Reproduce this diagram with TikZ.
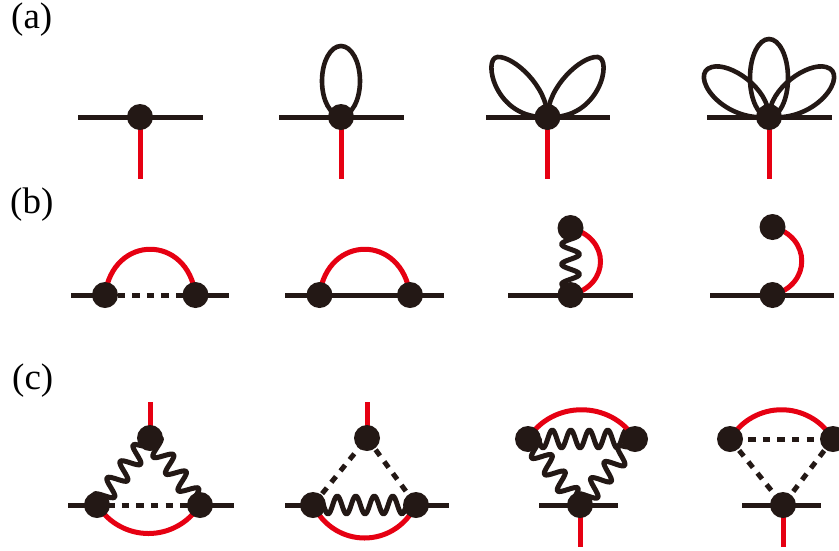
\documentclass[tikz,border=0pt]{standalone}
\usepackage{fontspec}
\setmainfont{Liberation Serif}
\usetikzlibrary{decorations.pathmorphing,backgrounds}

\definecolor{vblack}{HTML}{231815}
\definecolor{vred}{HTML}{E60012}

\tikzset{
  vtx/.style={circle, fill=vblack, inner sep=0pt, minimum size=26pt},
  fline/.style={draw=vblack, line width=5pt},
  rline/.style={draw=vred, line width=5pt},
  lpline/.style={draw=vblack, line width=4.6pt},
  dline/.style={draw=vblack, line width=5pt, dash pattern=on 7.4pt off 7.2pt},
  wline/.style={draw=vblack, line width=5pt, line join=round, decorate,
                decoration={snake, segment length=#1, amplitude=9pt}},
  wline/.default=20pt,
  panel/.style={anchor=base west, inner sep=0pt, font=\fontsize{37}{37}\selectfont}
}

\begin{document}
\begin{tikzpicture}[x=1pt, y=-1pt]
  \useasboundingbox (0,0) rectangle (839,550);

  %--- Panel labels
  \node[panel] (lba) at (11,28.5) {(a)};
  \node[panel] (lbb) at (10,213.5) {(b)};
  \node[panel] (lbc) at (12,389.5) {(c)};

  %--- Row (a)
  \node[vtx] (a1) at (140,117) {};
  \coordinate (a1w) at (78,117);
  \coordinate (a1e) at (203,117);
  \coordinate (a1s) at (140,179);

  \node[vtx] (a2) at (341,117) {};
  \coordinate (a2w) at (279,117);
  \coordinate (a2e) at (404,117);
  \coordinate (a2s) at (341,179);

  \node[vtx] (a3) at (547.5,117) {};
  \coordinate (a3w) at (486,117);
  \coordinate (a3e) at (610,117);
  \coordinate (a3s) at (547.5,179);

  \node[vtx] (a4) at (769,117) {};
  \coordinate (a4w) at (707,117);
  \coordinate (a4e) at (832,117);
  \coordinate (a4s) at (769,179);

  %--- Row (b)
  \node[vtx] (b1l) at (105,295) {};
  \node[vtx] (b1r) at (195.5,295) {};
  \coordinate (b1w) at (71,295);
  \coordinate (b1e) at (229,295);

  \node[vtx] (b2l) at (319.5,295) {};
  \node[vtx] (b2r) at (410,295) {};
  \coordinate (b2w) at (285,295);
  \coordinate (b2e) at (444,295);

  \node[vtx] (b3t) at (570.5,228) {};
  \node[vtx] (b3b) at (570.5,295) {};
  \coordinate (b3w) at (508,295);
  \coordinate (b3e) at (633,295);

  \node[vtx] (b4t) at (772.5,227) {};
  \node[vtx] (b4b) at (772.5,295) {};
  \coordinate (b4w) at (710,295);
  \coordinate (b4e) at (834,295);

  %--- Row (c)
  \node[vtx] (c1t) at (150,438) {};
  \node[vtx] (c1l) at (97,505) {};
  \node[vtx] (c1r) at (200,505) {};
  \coordinate (c1w) at (68,505);
  \coordinate (c1e) at (234,505);
  \coordinate (c1n) at (150,402);

  \node[vtx] (c2t) at (367,438) {};
  \node[vtx] (c2l) at (313,505) {};
  \node[vtx] (c2r) at (416,505) {};
  \coordinate (c2w) at (285,505);
  \coordinate (c2e) at (449,505);
  \coordinate (c2n) at (367,402);

  \node[vtx] (c3l) at (528,439) {};
  \node[vtx] (c3r) at (635,439) {};
  \node[vtx] (c3b) at (580,505) {};
  \coordinate (c3w) at (539,505);
  \coordinate (c3e) at (618,505);
  \coordinate (c3s) at (580,547);

  \node[vtx] (c4l) at (730,439) {};
  \node[vtx] (c4r) at (833,439) {};
  \node[vtx] (c4b) at (783,505) {};
  \coordinate (c4w) at (742,505);
  \coordinate (c4e) at (821,505);
  \coordinate (c4s) at (783,547);

  \begin{pgfonlayer}{background}
    %--- Lines of row (a)
    \draw[fline] (a1w) -- (a1e);
    \draw[rline] (a1.center) -- (a1s);

    \draw[fline] (a2w) -- (a2e);
    \draw[rline] (a2.center) -- (a2s);
    \draw[lpline] ([yshift=36pt]a2.center) ellipse (19 and 35);

    \draw[fline] (a3w) -- (a3e);
    \draw[rline] (a3.center) -- (a3s);
    \draw[lpline] (a3.center) .. controls +(0,-30) and +(16.5,-1) .. ++(-50,-60)
      .. controls +(-15.5,1) and +(-52.5,3) .. (a3.center);
    \draw[lpline] (a3.center) .. controls +(0,-30) and +(-16.5,-1) .. ++(50,-60)
      .. controls +(15.5,1) and +(52.5,3) .. (a3.center);

    \draw[fline] (a4w) -- (a4e);
    \draw[rline] (a4.center) -- (a4s);
    \draw[lpline] ([yshift=39pt]a4.center) ellipse (19 and 39);
    \draw[lpline] (a4.center) .. controls +(0,-29) and +(18,-5) .. ++(-57,-50)
      .. controls +(-24,6) and +(-49,5) .. (a4.center);
    \draw[lpline] (a4.center) .. controls +(0,-29) and +(-18,-5) .. ++(57,-50)
      .. controls +(24,6) and +(49,5) .. (a4.center);

    %--- Lines of row (b)
    \draw[fline] (b1w) -- (b1l.center);
    \draw[fline] (b1r.center) -- (b1e);
    \draw[dline, dash phase=2pt] (b1l.center) -- (b1r.center);
    \draw[rline] (b1l.center) .. controls +(8,-61) and +(-8,-61) .. (b1r.center);

    \draw[fline] (b2w) -- (b2e);
    \draw[rline] (b2l.center) .. controls +(8,-61) and +(-8,-61) .. (b2r.center);

    \draw[fline] (b3w) -- (b3e);
    \draw[wline] (b3t.center) -- (b3b.center);
    \draw[rline] (b3t.center) .. controls +(40,10) and +(40,-10) .. (b3b.center);

    \draw[fline] (b4w) -- (b4e);
    \draw[rline] (b4t.center) .. controls +(39,10) and +(39,-10) .. (b4b.center);

    %--- Lines of row (c)
    \draw[fline] (c1w) -- (c1l.center);
    \draw[fline] (c1r.center) -- (c1e);
    \draw[rline] (c1t.center) -- (c1n);
    \draw[wline=21pt] (c1l.center) -- (c1t.center);
    \draw[wline=21pt] (c1t.center) -- (c1r.center);
    \draw[dline, dash phase=4.5pt] (c1l.center) -- (c1r.center);
    \draw[rline] (c1l.center) .. controls +(25,38) and +(-25,38) .. (c1r.center);

    \draw[fline] (c2w) -- (c2l.center);
    \draw[fline] (c2r.center) -- (c2e);
    \draw[rline] (c2t.center) -- (c2n);
    \draw[dline] (c2l.center) -- (c2t.center);
    \draw[dline] (c2t.center) -- (c2r.center);
    \draw[wline=18.5pt] (c2l.center) -- (c2r.center);
    \draw[rline] (c2l.center) .. controls +(22,44) and +(-22,44) .. (c2r.center);

    \draw[fline] (c3w) -- (c3e);
    \draw[rline] (c3b.center) -- (c3s);
    \draw[wline=18.5pt] (c3l.center) -- (c3r.center);
    \draw[wline=21pt] (c3l.center) -- (c3b.center);
    \draw[wline=21pt] (c3b.center) -- (c3r.center);
    \draw[rline] (c3l.center) .. controls +(24,-39) and +(-24,-39) .. (c3r.center);

    \draw[fline] (c4w) -- (c4e);
    \draw[rline] (c4b.center) -- (c4s);
    \draw[dline, dash phase=11pt] (c4l.center) -- (c4r.center);
    \draw[dline] (c4l.center) -- (c4b.center);
    \draw[dline] (c4r.center) -- (c4b.center);
    \draw[rline] (c4l.center) .. controls +(24,-39) and +(-24,-39) .. (c4r.center);
  \end{pgfonlayer}
\end{tikzpicture}
\end{document}
